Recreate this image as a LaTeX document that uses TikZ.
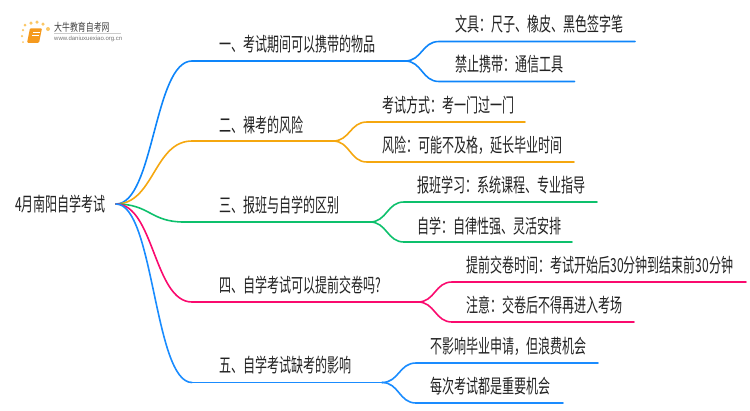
\documentclass[tikz,border=0pt]{standalone}
\usepackage{fontspec}
\setmainfont{Liberation Sans}
\newfontfamily\cjk[FakeStretch=0.62]{Noto Sans CJK SC}
\newfontfamily\cjklogo[FakeStretch=0.72]{Noto Sans CJK SC}
\definecolor{cblue}{HTML}{0E85FA}
\definecolor{corange}{HTML}{F5A70F}
\definecolor{cgreen}{HTML}{0DC06C}
\definecolor{cpink}{HTML}{FA0A6E}
\definecolor{cblueb}{HTML}{1A8CFF}
\definecolor{ink}{HTML}{222222}
\definecolor{sun}{HTML}{FBC766}
\definecolor{bookc}{HTML}{F59A1E}
\tikzset{
  label/.style={font=\cjk\fontsize{19.4}{21}\selectfont,text=ink,inner sep=0pt,outer sep=0pt,anchor=west},
  main/.style={line width=1.6pt,line cap=round},
  sub/.style={line width=1.6pt,line cap=round},
  dot/.style={circle,fill=sun,draw=none,inner sep=0pt,minimum size=#1},
}
\newcommand{\trunk}[3]{% root, branch start, colour
  \draw[main,#3] (#1) .. controls ($(#1)!0.5!(#2|-#1)$) and ($(#1|-#2)!0.5!(#2)$) .. (#2);}
\usetikzlibrary{calc}
\begin{document}
\begin{tikzpicture}[x=1pt,y=-1pt]
\useasboundingbox (0,0) rectangle (750,410);
% logo
\foreach \n/\a/\b/\s in {d1/25/25/3,d2/31/23/3.5,d3/37/22/3.5,d4/43/24/3.5,d5/48/29/4,d6/23/30/2.5,d7/22/36/2.5,d8/23/42/2}
  \node[dot=\s pt] (\n) at (\a,\b) {};
\node[rounded corners=1pt,fill=bookc,minimum width=12pt,minimum height=14.5pt,inner sep=0pt,xslant=0.2] (book) at (34.5,35.5) {};
\node[fill=white,minimum width=7pt,minimum height=1pt,inner sep=0pt] (bookl1) at (36,32) {};
\node[fill=white,minimum width=7pt,minimum height=1pt,inner sep=0pt] (bookl2) at (35.5,35) {};
\node[font=\cjklogo\fontsize{11}{12}\selectfont,text=ink!85,inner sep=0pt,anchor=west] (logot) at (54,27) {大牛教育自考网};
\node[font=\fontsize{6}{7}\selectfont,text=black!55,inner sep=0pt,anchor=west] (logou) at (54,39) {www.daniuxuexiao.org.cn};
\coordinate (logoa) at (54,33.5);
\coordinate (logob) at (121,33.5);
\draw[black!20,line width=0.6pt] (logoa) -- (logob);
% root
\node[label] (root) at (15,204) {4月南阳自学考试};
\coordinate (r) at (116,204);
% generic coords
\foreach \n/\x/\y in {
  b1s/192/61,b1f/405/61,a1/439/41.5,a1e/635/41.5,a2/439/81.5,a2e/574.5/81.5,
  b2s/192/141,b2f/333/141,c1/367/122,c1e/525/122,c2/367/162,c2e/574/162,
  b3s/184/222,b3f/370/222,d1c/404/202,d1e/597/202,d2c/404/242,d2e/572/242,
  b4s/192/302,b4f/418/302,e1/452/282,e1e/746/282,e2/452/322,e2e/634/322,
  b5s/192/382.5,b5f/382/382.5,f1/416/363,f1e/598/363,f2/416/403,f2e/563/403}
  \coordinate (\n) at (\x,\y);
% trunks
\trunk{r}{b1s}{cblue}
\trunk{r}{b2s}{corange}
\trunk{r}{b3s}{cgreen}
\trunk{r}{b4s}{cpink}
\trunk{r}{b5s}{cblueb}
\newcommand{\forkk}[5]{% f, child start, child end, colour
  \draw[sub,#4] (#1) .. controls ($(#1)!0.5!(#2|-#1)$) and ($(#1|-#2)!0.5!(#2)$) .. (#2) -- (#3);}
\draw[main,cblue] (b1s) -- (b1f);
\draw[main,corange] (b2s) -- (b2f);
\draw[main,cgreen] (b3s) -- (b3f);
\draw[main,cpink] (b4s) -- (b4f);
\draw[main,cblueb] (b5s) -- (b5f);
\forkk{b1f}{a1}{a1e}{cblue}{}
\forkk{b1f}{a2}{a2e}{cblue}{}
\forkk{b2f}{c1}{c1e}{corange}{}
\forkk{b2f}{c2}{c2e}{corange}{}
\forkk{b3f}{d1c}{d1e}{cgreen}{}
\forkk{b3f}{d2c}{d2e}{cgreen}{}
\forkk{b4f}{e1}{e1e}{cpink}{}
\forkk{b4f}{e2}{e2e}{cpink}{}
\forkk{b5f}{f1}{f1e}{cblueb}{}
\forkk{b5f}{f2}{f2e}{cblueb}{}
% labels
\node[label] (t1) at (219,44) {一、考试期间可以携带的物品};
\node[label] (t2) at (219,125) {二、裸考的风险};
\node[label] (t3) at (219,205) {三、报班与自学的区别};
\node[label] (t4) at (219,285) {四、自学考试可以提前交卷吗?};
\node[label] (t5) at (219,365) {五、自学考试缺考的影响};
\node[label] (s11) at (455,24.5) {文具：尺子、橡皮、黑色签字笔};
\node[label] (s12) at (455,64.5) {禁止携带：通信工具};
\node[label] (s21) at (382,105) {考试方式：考一门过一门};
\node[label] (s22) at (382,145) {风险：可能不及格，延长毕业时间};
\node[label] (s31) at (417,185) {报班学习：系统课程、专业指导};
\node[label] (s32) at (417,226) {自学：自律性强、灵活安排};
\node[label] (s41) at (466,265.5) {提前交卷时间：考试开始后30分钟到结束前30分钟};
\node[label] (s42) at (466,305.5) {注意：交卷后不得再进入考场};
\node[label] (s51) at (430,346) {不影响毕业申请，但浪费机会};
\node[label] (s52) at (430,386) {每次考试都是重要机会};
\end{tikzpicture}
\end{document}
